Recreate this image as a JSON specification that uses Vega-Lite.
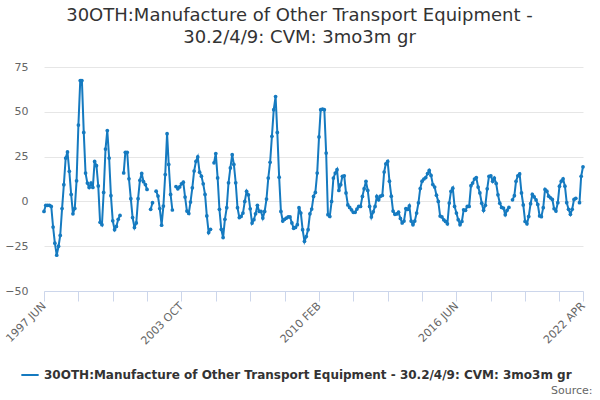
{
  "$schema": "https://vega.github.io/schema/vega-lite/v6.json",
  "width": 539,
  "height": 224,
  "autosize": {"type": "none"},
  "padding": {"left": 44, "top": 67, "right": 17, "bottom": 109},
  "title": {
    "text": ["30OTH:Manufacture of Other Transport Equipment -", "30.2/4/9: CVM: 3mo3m gr"],
    "font": "DejaVu Sans",
    "fontSize": 18,
    "fontWeight": "normal",
    "color": "#333333",
    "anchor": "middle",
    "dx": -14,
    "offset": 14,
    "lineHeight": 22
  },
  "data": {
    "values": [
      {"month": "1997-06", "value": -5.6}, {"month": "1997-07", "value": -2.2}, {"month": "1997-08", "value": -2.2}, {"month": "1997-09", "value": -2.2},
      {"month": "1997-10", "value": -2.8}, {"month": "1997-11", "value": -14.3}, {"month": "1997-12", "value": -23.3},
      {"month": "1998-01", "value": -30}, {"month": "1998-02", "value": -25}, {"month": "1998-03", "value": -19}, {"month": "1998-04", "value": -4},
      {"month": "1998-05", "value": 9.3}, {"month": "1998-06", "value": 24.2}, {"month": "1998-07", "value": 27.6}, {"month": "1998-08", "value": 16.8},
      {"month": "1998-09", "value": 3.9}, {"month": "1998-10", "value": -6.9}, {"month": "1998-11", "value": -3.9}, {"month": "1998-12", "value": 11.5},
      {"month": "1999-01", "value": 42.6}, {"month": "1999-02", "value": 67.4}, {"month": "1999-03", "value": 67.4}, {"month": "1999-04", "value": 38.5},
      {"month": "1999-05", "value": 15.8}, {"month": "1999-06", "value": 10.2}, {"month": "1999-07", "value": 7.8}, {"month": "1999-08", "value": 10.2},
      {"month": "1999-09", "value": 7.8}, {"month": "1999-10", "value": 22.3}, {"month": "1999-11", "value": 19.9}, {"month": "1999-12", "value": 8.6},
      {"month": "2000-01", "value": -11.7}, {"month": "2000-02", "value": -13}, {"month": "2000-03", "value": 5}, {"month": "2000-04", "value": 29.2},
      {"month": "2000-05", "value": 39.5}, {"month": "2000-06", "value": 24.2}, {"month": "2000-07", "value": 3.2}, {"month": "2000-08", "value": -10.8},
      {"month": "2000-09", "value": -15.8}, {"month": "2000-10", "value": -14}, {"month": "2000-11", "value": -10}, {"month": "2000-12", "value": -7.8},
      {"month": "2001-01", "value": null}, {"month": "2001-02", "value": 15.9}, {"month": "2001-03", "value": 27.4}, {"month": "2001-04", "value": 27.4},
      {"month": "2001-05", "value": 12.6}, {"month": "2001-06", "value": 1.5}, {"month": "2001-07", "value": -9}, {"month": "2001-08", "value": -14.5},
      {"month": "2001-09", "value": -12}, {"month": "2001-10", "value": 1.5}, {"month": "2001-11", "value": 11.8}, {"month": "2001-12", "value": 15.6},
      {"month": "2002-01", "value": 11}, {"month": "2002-02", "value": 9.4}, {"month": "2002-03", "value": 6.7}, {"month": "2002-04", "value": null},
      {"month": "2002-05", "value": -4.4}, {"month": "2002-06", "value": -0.7}, {"month": "2002-07", "value": null}, {"month": "2002-08", "value": 5.7},
      {"month": "2002-09", "value": 3}, {"month": "2002-10", "value": -4}, {"month": "2002-11", "value": -13.3}, {"month": "2002-12", "value": -2.6},
      {"month": "2003-01", "value": 15}, {"month": "2003-02", "value": 37.8}, {"month": "2003-03", "value": 20.6}, {"month": "2003-04", "value": 3.9},
      {"month": "2003-05", "value": -4.8}, {"month": "2003-06", "value": null}, {"month": "2003-07", "value": 8.3}, {"month": "2003-08", "value": 7},
      {"month": "2003-09", "value": 8.1}, {"month": "2003-10", "value": 9.8}, {"month": "2003-11", "value": 10.7}, {"month": "2003-12", "value": 2.4},
      {"month": "2004-01", "value": -5.4}, {"month": "2004-02", "value": -6.7}, {"month": "2004-03", "value": -0.4}, {"month": "2004-04", "value": 7.6},
      {"month": "2004-05", "value": 16.9}, {"month": "2004-06", "value": 22.4}, {"month": "2004-07", "value": 24.8}, {"month": "2004-08", "value": 16.3},
      {"month": "2004-09", "value": 14.1}, {"month": "2004-10", "value": 9.8}, {"month": "2004-11", "value": 3.9}, {"month": "2004-12", "value": -8.1},
      {"month": "2005-01", "value": -17.4}, {"month": "2005-02", "value": -15.6}, {"month": "2005-03", "value": null}, {"month": "2005-04", "value": 21.5},
      {"month": "2005-05", "value": 26.7}, {"month": "2005-06", "value": 13.1}, {"month": "2005-07", "value": -4.4}, {"month": "2005-08", "value": -15.6},
      {"month": "2005-09", "value": -20.2}, {"month": "2005-10", "value": -10}, {"month": "2005-11", "value": -3.5}, {"month": "2005-12", "value": 10.4},
      {"month": "2006-01", "value": 18.7}, {"month": "2006-02", "value": 26.1}, {"month": "2006-03", "value": 20.6}, {"month": "2006-04", "value": 10.4},
      {"month": "2006-05", "value": -3.5}, {"month": "2006-06", "value": -9}, {"month": "2006-07", "value": -8.4}, {"month": "2006-08", "value": -6.5},
      {"month": "2006-09", "value": 0}, {"month": "2006-10", "value": 5.6}, {"month": "2006-11", "value": 3.7}, {"month": "2006-12", "value": -4.1},
      {"month": "2007-01", "value": -12.1}, {"month": "2007-02", "value": -10.2}, {"month": "2007-03", "value": -6.9}, {"month": "2007-04", "value": -2.2},
      {"month": "2007-05", "value": -5.6}, {"month": "2007-06", "value": -5.6}, {"month": "2007-07", "value": -9.3}, {"month": "2007-08", "value": -5.6},
      {"month": "2007-09", "value": 1.3}, {"month": "2007-10", "value": 13}, {"month": "2007-11", "value": 21.8}, {"month": "2007-12", "value": 36.3},
      {"month": "2008-01", "value": 51.2}, {"month": "2008-02", "value": 58.5}, {"month": "2008-03", "value": 38.5}, {"month": "2008-04", "value": 13.5},
      {"month": "2008-05", "value": -5.6}, {"month": "2008-06", "value": -11}, {"month": "2008-07", "value": -10}, {"month": "2008-08", "value": -9.3},
      {"month": "2008-09", "value": -8.7}, {"month": "2008-10", "value": -8.7}, {"month": "2008-11", "value": -12}, {"month": "2008-12", "value": -15},
      {"month": "2009-01", "value": -14.5}, {"month": "2009-02", "value": -13}, {"month": "2009-03", "value": -3.5}, {"month": "2009-04", "value": -6.5},
      {"month": "2009-05", "value": -15.8}, {"month": "2009-06", "value": -22.3}, {"month": "2009-07", "value": -19.6}, {"month": "2009-08", "value": -15.8},
      {"month": "2009-09", "value": -6.9}, {"month": "2009-10", "value": -4.3}, {"month": "2009-11", "value": 2.8}, {"month": "2009-12", "value": 5},
      {"month": "2010-01", "value": 15.8}, {"month": "2010-02", "value": 36}, {"month": "2010-03", "value": 51.2}, {"month": "2010-04", "value": 51.5},
      {"month": "2010-05", "value": 51.2}, {"month": "2010-06", "value": 27}, {"month": "2010-07", "value": -7.4}, {"month": "2010-08", "value": -8.4},
      {"month": "2010-09", "value": 0}, {"month": "2010-10", "value": 13}, {"month": "2010-11", "value": 15.8}, {"month": "2010-12", "value": 17.7},
      {"month": "2011-01", "value": 6.1}, {"month": "2011-02", "value": 9.3}, {"month": "2011-03", "value": 14}, {"month": "2011-04", "value": 14.3},
      {"month": "2011-05", "value": 4.7}, {"month": "2011-06", "value": -2}, {"month": "2011-07", "value": -3.4}, {"month": "2011-08", "value": -4.7},
      {"month": "2011-09", "value": -6.1}, {"month": "2011-10", "value": -6.1}, {"month": "2011-11", "value": -4.3}, {"month": "2011-12", "value": -2.8},
      {"month": "2012-01", "value": -2.8}, {"month": "2012-02", "value": 2.8}, {"month": "2012-03", "value": 7.1}, {"month": "2012-04", "value": 11.2},
      {"month": "2012-05", "value": 6.1}, {"month": "2012-06", "value": -2.8}, {"month": "2012-07", "value": -8.7}, {"month": "2012-08", "value": -5.8},
      {"month": "2012-09", "value": -2.8}, {"month": "2012-10", "value": 2.8}, {"month": "2012-11", "value": 0.9}, {"month": "2012-12", "value": 2.9},
      {"month": "2013-01", "value": 3.3}, {"month": "2013-02", "value": 16.4}, {"month": "2013-03", "value": 21}, {"month": "2013-04", "value": 22.3},
      {"month": "2013-05", "value": 11.3}, {"month": "2013-06", "value": 2.9}, {"month": "2013-07", "value": -5.4}, {"month": "2013-08", "value": -7.2},
      {"month": "2013-09", "value": -7}, {"month": "2013-10", "value": -6}, {"month": "2013-11", "value": -9.5}, {"month": "2013-12", "value": -12},
      {"month": "2014-01", "value": -11}, {"month": "2014-02", "value": -4}, {"month": "2014-03", "value": -4.5}, {"month": "2014-04", "value": -2.5},
      {"month": "2014-05", "value": -11}, {"month": "2014-06", "value": -13}, {"month": "2014-07", "value": -11}, {"month": "2014-08", "value": -6.5},
      {"month": "2014-09", "value": -0.8}, {"month": "2014-10", "value": 7.2}, {"month": "2014-11", "value": 11.3}, {"month": "2014-12", "value": 12.5},
      {"month": "2015-01", "value": 13.3}, {"month": "2015-02", "value": 15.5}, {"month": "2015-03", "value": 17.3}, {"month": "2015-04", "value": 14.5},
      {"month": "2015-05", "value": 9.4}, {"month": "2015-06", "value": 8}, {"month": "2015-07", "value": 3.5}, {"month": "2015-08", "value": 0},
      {"month": "2015-09", "value": -8.2}, {"month": "2015-10", "value": -8.7}, {"month": "2015-11", "value": -10.3}, {"month": "2015-12", "value": -11.2},
      {"month": "2016-01", "value": -12.5}, {"month": "2016-02", "value": -0.9}, {"month": "2016-03", "value": 5.6}, {"month": "2016-04", "value": 7.4},
      {"month": "2016-05", "value": -2.8}, {"month": "2016-06", "value": -6.5}, {"month": "2016-07", "value": -10.2}, {"month": "2016-08", "value": -13},
      {"month": "2016-09", "value": -11.2}, {"month": "2016-10", "value": -4.7}, {"month": "2016-11", "value": -5}, {"month": "2016-12", "value": -2.8},
      {"month": "2017-01", "value": -2.8}, {"month": "2017-02", "value": 8.8}, {"month": "2017-03", "value": 10.2}, {"month": "2017-04", "value": 12.5},
      {"month": "2017-05", "value": 13.3}, {"month": "2017-06", "value": 8}, {"month": "2017-07", "value": 4.7}, {"month": "2017-08", "value": -1},
      {"month": "2017-09", "value": -5}, {"month": "2017-10", "value": -2.2}, {"month": "2017-11", "value": 7}, {"month": "2017-12", "value": 14},
      {"month": "2018-01", "value": 14.3}, {"month": "2018-02", "value": 11.2}, {"month": "2018-03", "value": 13}, {"month": "2018-04", "value": 10},
      {"month": "2018-05", "value": 3.7}, {"month": "2018-06", "value": -1}, {"month": "2018-07", "value": -3.4}, {"month": "2018-08", "value": -3.7},
      {"month": "2018-09", "value": -7.4}, {"month": "2018-10", "value": -5}, {"month": "2018-11", "value": -3.4}, {"month": "2018-12", "value": null},
      {"month": "2019-01", "value": 0.9}, {"month": "2019-02", "value": 3.2}, {"month": "2019-03", "value": 11.2}, {"month": "2019-04", "value": 14.3},
      {"month": "2019-05", "value": 15.3}, {"month": "2019-06", "value": 4.7}, {"month": "2019-07", "value": -2}, {"month": "2019-08", "value": -11.2},
      {"month": "2019-09", "value": -12.5}, {"month": "2019-10", "value": -8.4}, {"month": "2019-11", "value": -1.3}, {"month": "2019-12", "value": 3.9},
      {"month": "2020-01", "value": 2.5}, {"month": "2020-02", "value": 0.8}, {"month": "2020-03", "value": -1.7}, {"month": "2020-04", "value": -8.1},
      {"month": "2020-05", "value": -8.5}, {"month": "2020-06", "value": -3.5}, {"month": "2020-07", "value": 6.7}, {"month": "2020-08", "value": 5.7},
      {"month": "2020-09", "value": 2.9}, {"month": "2020-10", "value": 2}, {"month": "2020-11", "value": 1.1}, {"month": "2020-12", "value": -4.1},
      {"month": "2021-01", "value": -5.4}, {"month": "2021-02", "value": -0.7}, {"month": "2021-03", "value": 8.5}, {"month": "2021-04", "value": 11.3},
      {"month": "2021-05", "value": 12.6}, {"month": "2021-06", "value": 8.5}, {"month": "2021-07", "value": -0.7}, {"month": "2021-08", "value": -4.4},
      {"month": "2021-09", "value": -7.2}, {"month": "2021-10", "value": -4.4}, {"month": "2021-11", "value": 1.1}, {"month": "2021-12", "value": 1.7},
      {"month": "2022-01", "value": null}, {"month": "2022-02", "value": -0.7}, {"month": "2022-03", "value": 14}, {"month": "2022-04", "value": 19.3}
    ]
  },
  "mark": {
    "type": "line",
    "strokeWidth": 2,
    "invalid": "break-paths-show-domains",
    "point": {"filled": true, "size": 14}
  },
  "encoding": {
    "x": {
      "field": "month",
      "type": "temporal",
      "scale": {"type": "utc", "nice": false},
      "axis": {
        "values": [
          {"year": 1997, "month": 6, "date": 1, "utc": true},
          {"year": 1999, "month": 1, "date": 1, "utc": true},
          {"year": 2000, "month": 8, "date": 1, "utc": true},
          {"year": 2002, "month": 3, "date": 1, "utc": true},
          {"year": 2003, "month": 10, "date": 1, "utc": true},
          {"year": 2005, "month": 5, "date": 1, "utc": true},
          {"year": 2006, "month": 12, "date": 1, "utc": true},
          {"year": 2008, "month": 7, "date": 1, "utc": true},
          {"year": 2010, "month": 2, "date": 1, "utc": true},
          {"year": 2011, "month": 9, "date": 1, "utc": true},
          {"year": 2013, "month": 4, "date": 1, "utc": true},
          {"year": 2014, "month": 11, "date": 1, "utc": true},
          {"year": 2016, "month": 6, "date": 1, "utc": true},
          {"year": 2018, "month": 1, "date": 1, "utc": true},
          {"year": 2019, "month": 8, "date": 1, "utc": true},
          {"year": 2021, "month": 3, "date": 1, "utc": true},
          {"year": 2022, "month": 4, "date": 1, "utc": true}
        ],
        "labelExpr": "indexof(['1997-06','2003-10','2010-02','2016-06','2022-04'], utcFormat(datum.value, '%Y-%m')) >= 0 ? upper(utcFormat(datum.value, '%Y %b')) : ''",
        "labelAngle": -45,
        "labelAlign": "right",
        "labelBaseline": "middle",
        "labelOverlap": false,
        "labelFlush": false,
        "labelPadding": 3,
        "labelColor": "#666666",
        "labelFontSize": 11,
        "tickColor": "#ccd6eb",
        "tickSize": 10,
        "domainColor": "#ccd6eb",
        "grid": false,
        "title": "Source:",
        "titleAnchor": "end",
        "titleAlign": "right",
        "titleBaseline": "top",
        "titleX": 548,
        "titleY": 93,
        "titleFontSize": 11,
        "titleFontWeight": "normal",
        "titleColor": "#666666"
      }
    },
    "y": {
      "field": "value",
      "type": "quantitative",
      "scale": {"domain": [-50, 75], "nice": false},
      "axis": {
        "values": [-50, -25, 0, 25, 50, 75],
        "domain": false,
        "ticks": false,
        "grid": true,
        "gridColor": "#e6e6e6",
        "labelColor": "#666666",
        "labelFontSize": 11,
        "labelPadding": 16,
        "title": null
      }
    },
    "color": {
      "datum": "30OTH:Manufacture of Other Transport Equipment - 30.2/4/9: CVM: 3mo3m gr",
      "type": "nominal",
      "scale": {"range": ["#157ac0"]},
      "legend": {
        "orient": "none",
        "legendX": -24,
        "legendY": 298,
        "title": null,
        "symbolType": "stroke",
        "symbolStrokeWidth": 2,
        "symbolSize": 300,
        "labelFontSize": 12,
        "labelFontWeight": "bold",
        "labelColor": "#333333",
        "labelLimit": 700
      }
    }
  },
  "config": {
    "view": {"stroke": null},
    "font": "DejaVu Sans"
  }
}
